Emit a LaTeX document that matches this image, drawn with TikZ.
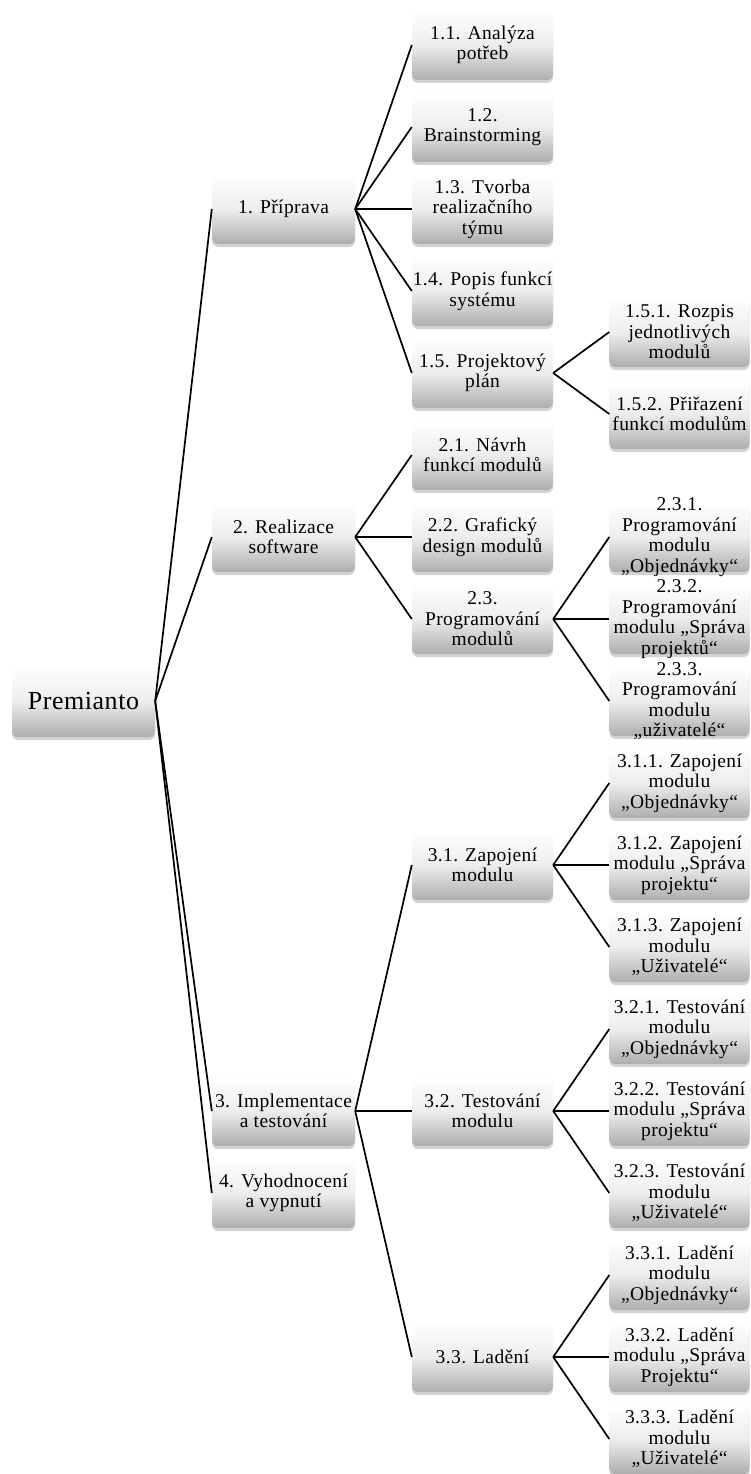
\documentclass[tikz,border=0pt]{standalone}
\usepackage{fontspec}
\setmainfont{Liberation Serif}[LetterSpace=2.0]
\usetikzlibrary{shadows}

\tikzset{
  wbs/.style={rounded corners=6pt, inner sep=0pt, minimum width=141pt, minimum height=70pt,
    top color=white, bottom color=black!32, middle color=black!7,
    drop shadow={shadow xshift=0pt, shadow yshift=-3pt, opacity=0.35}},
  wbstext/.style={align=center, inner sep=0pt, font=\fontsize{19.5}{20.5}\selectfont},
  link/.style={line width=1.7pt}
}

% box first, then its text on top of it
\newcommand{\wbsnode}[5][]{%
  \node[wbs, #1] (#2) at (#3) {};
  \node[wbstext] (#2-t) at (#2) {#4#5};
}

\begin{document}
\begin{tikzpicture}[x=1pt, y=-1pt]
  \useasboundingbox (0,0) rectangle (750,1474);

  % Root
  \node[wbs, minimum width=143pt, minimum height=72pt] (root) at (83.5,701) {};
  \node[wbstext, font=\fontsize{26}{28}\selectfont] (root-t) at (root) {Premianto};

  % Level 1
  \wbsnode[minimum width=143pt]{p1}{283.5,209}{1. Příprava}{}
  \wbsnode[minimum width=143pt]{p2}{283.5,537}{2. Realizace\\ software}{}
  \wbsnode[minimum width=143pt]{p3}{283.5,1111}{3. Implementace\\ a testování}{}
  \wbsnode[minimum width=143pt]{p4}{283.5,1193}{4. Vyhodnocení\\ a vypnutí}{}

  % Level 2
  \wbsnode{p11}{482.5,45}{1.1. Analýza\\ potřeb}{}
  \wbsnode{p12}{482.5,127}{1.2.\\ Brainstorming}{}
  \wbsnode{p13}{482.5,209}{1.3. Tvorba\\ realizačního\\ týmu}{}
  \wbsnode{p14}{482.5,291}{1.4. Popis funkcí\\ systému}{}
  \wbsnode{p15}{482.5,373}{1.5. Projektový\\ plán}{}
  \wbsnode{p21}{482.5,455}{2.1. Návrh\\ funkcí modulů}{}
  \wbsnode{p22}{482.5,537}{2.2. Grafický\\ design modulů}{}
  \wbsnode{p23}{482.5,619}{2.3.\\ Programování\\ modulů}{}
  \wbsnode{p31}{482.5,865}{3.1. Zapojení\\ modulu}{}
  \wbsnode{p32}{482.5,1111}{3.2. Testování\\ modulu}{}
  \wbsnode{p33}{482.5,1357}{3.3. Ladění}{}

  % Level 3
  \wbsnode[minimum width=140pt]{p151}{679.5,332}{1.5.1. Rozpis\\ jednotlivých\\ modulů}{}
  \wbsnode[minimum width=140pt]{p152}{679.5,414}{1.5.2. Přiřazení\\ funkcí modulům}{}
  \wbsnode[minimum width=140pt]{p231}{679.5,537}{2.3.1.\\ Programování\\ modulu\\ „Objednávky“}{}
  \wbsnode[minimum width=140pt]{p232}{679.5,619}{2.3.2.\\ Programování\\ modulu „Správa\\ projektů“}{}
  \wbsnode[minimum width=140pt]{p233}{679.5,701}{2.3.3.\\ Programování\\ modulu\\ „uživatelé“}{}
  \wbsnode[minimum width=140pt]{p311}{679.5,783}{3.1.1. Zapojení\\ modulu\\ „Objednávky“}{}
  \wbsnode[minimum width=140pt]{p312}{679.5,865}{3.1.2. Zapojení\\ modulu „Správa\\ projektu“}{}
  \wbsnode[minimum width=140pt]{p313}{679.5,947}{3.1.3. Zapojení\\ modulu\\ „Uživatelé“}{}
  \wbsnode[minimum width=140pt]{p321}{679.5,1029}{3.2.1. Testování\\ modulu\\ „Objednávky“}{}
  \wbsnode[minimum width=140pt]{p322}{679.5,1111}{3.2.2. Testování\\ modulu „Správa\\ projektu“}{}
  \wbsnode[minimum width=140pt]{p323}{679.5,1193}{3.2.3. Testování\\ modulu\\ „Uživatelé“}{}
  \wbsnode[minimum width=140pt]{p331}{679.5,1275}{3.3.1. Ladění\\ modulu\\ „Objednávky“}{}
  \wbsnode[minimum width=140pt]{p332}{679.5,1357}{3.3.2. Ladění\\ modulu „Správa\\ Projektu“}{}
  \wbsnode[minimum width=140pt]{p333}{679.5,1439}{3.3.3. Ladění\\ modulu\\ „Uživatelé“}{}

  % Connectors
  \foreach \c in {p1,p2,p3,p4} \draw[link] (root.east) -- (\c.west);
  \foreach \c in {p11,p12,p13,p14,p15} \draw[link] (p1.east) -- (\c.west);
  \foreach \c in {p151,p152} \draw[link] (p15.east) -- (\c.west);
  \foreach \c in {p21,p22,p23} \draw[link] (p2.east) -- (\c.west);
  \foreach \c in {p231,p232,p233} \draw[link] (p23.east) -- (\c.west);
  \foreach \c in {p31,p32,p33} \draw[link] (p3.east) -- (\c.west);
  \foreach \c in {p311,p312,p313} \draw[link] (p31.east) -- (\c.west);
  \foreach \c in {p321,p322,p323} \draw[link] (p32.east) -- (\c.west);
  \foreach \c in {p331,p332,p333} \draw[link] (p33.east) -- (\c.west);
\end{tikzpicture}
\end{document}
